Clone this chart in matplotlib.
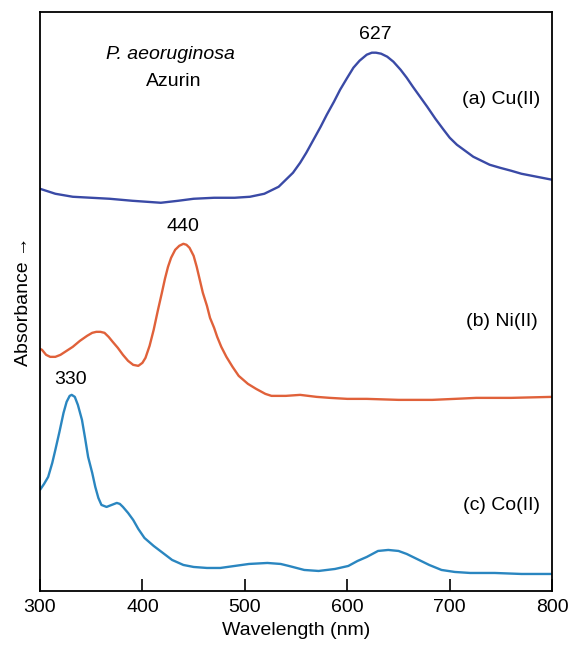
import numpy as np
import matplotlib
matplotlib.use("Agg")
import matplotlib.pyplot as plt

plt.rcParams['font.family'] = ['Liberation Sans', 'DejaVu Sans']

# spectra (wavelength in nm, height in arbitrary units)
cu_nm = [300, 315, 332, 350, 368, 390, 418, 435, 450, 470, 490, 505, 519, 533, 547, 554,
         560, 567, 574, 580, 587, 593, 600, 606, 612, 619, 624, 628, 633, 639, 645, 652,
         658, 664, 671, 678, 686, 694, 700, 707, 715, 723, 731, 739, 749, 760, 770, 785, 800]
cu_px = [189, 194, 197, 198, 199, 201, 203, 201, 199, 198, 198, 197, 194, 187, 173, 163,
         153, 140, 127, 115, 102, 90, 78, 68, 61, 55, 53, 53, 54, 57, 62, 70,
         78, 87, 97, 107, 119, 130, 138, 145, 151, 157, 161, 165, 168, 171, 174, 177, 180]

ni_nm = [300, 302, 306, 310, 315, 320, 326, 332, 339, 346, 351, 355, 359, 363, 367, 371,
         376, 381, 386, 391, 396, 400, 403, 407, 411, 415, 419, 422, 425, 428, 432, 436,
         440, 443, 446, 450, 453, 456, 459, 463, 466, 470, 473, 477, 482, 488, 494, 503,
         511, 520, 526, 540, 554, 570, 583, 600, 619, 650, 683, 705, 726, 760, 800]
ni_px = [349, 350, 355, 357, 357, 355, 351, 347, 341, 336, 333, 332, 332, 333, 337, 342,
         348, 355, 361, 365, 366, 363, 358, 346, 330, 311, 293, 279, 267, 258, 250, 246,
         244, 245, 248, 256, 267, 280, 293, 306, 318, 328, 337, 347, 357, 367, 376, 384,
         389, 394, 396, 396, 395, 397, 398, 399, 399, 400, 400, 399, 398, 398, 397]

co_nm = [300, 304, 308, 312, 315, 319, 323, 326, 329, 331, 334, 337, 341, 344, 347, 351,
         354, 357, 360, 365, 370, 375, 378, 381, 386, 391, 396, 402, 411, 420, 429, 440,
         450, 463, 476, 490, 504, 522, 535, 543, 558, 572, 588, 601, 610, 619, 630, 640,
         650, 658, 670, 680, 692, 705, 720, 744, 770, 800]
co_px = [490, 484, 477, 463, 450, 432, 413, 402, 396, 395, 397, 405, 420, 438, 457, 473,
         487, 498, 505, 507, 505, 503, 504, 507, 513, 520, 529, 538, 546, 553, 560, 565,
         567, 568, 568, 566, 564, 563, 564, 566, 570, 571, 569, 566, 561, 557, 551, 550,
         551, 554, 560, 565, 570, 572, 573, 573, 574, 574]

BASE = 591
cu = BASE - np.array(cu_px)
ni = BASE - np.array(ni_px)
co = BASE - np.array(co_px)

fig = plt.figure(figsize=(5.71, 6.48), dpi=100)
ax = fig.add_axes([0.070, 0.088, 0.897, 0.894])

kw = dict(lw=1.7, solid_joinstyle='round', solid_capstyle='round')
ax.plot(cu_nm, cu, color='#3a4aa6', **kw)
ax.plot(ni_nm, ni, color='#e0613a', **kw)
ax.plot(co_nm, co, color='#2a86c0', **kw)

ax.set_xlim(300, 800)
ax.set_ylim(0, BASE - 12)
ax.set_xticks([300, 400, 500, 600, 700, 800])
ax.set_yticks([])
ax.tick_params(axis='x', direction='in', length=9, width=1.2, labelsize=14, pad=6)
for s in ax.spines.values():
    s.set_linewidth(1.3)

ax.set_xlabel('Wavelength (nm)', fontsize=14, labelpad=4)
ax.set_ylabel('Absorbance \u2192', fontsize=14, labelpad=6)

fs = 14
ax.text(627, BASE - 35, '627', ha='center', va='center', fontsize=fs)
ax.text(440, BASE - 227, '440', ha='center', va='center', fontsize=fs)
ax.text(330, BASE - 380, '330', ha='center', va='center', fontsize=fs)
ax.text(427, BASE - 55, 'P. aeoruginosa', ha='center', va='center', fontsize=fs, style='italic')
ax.text(431, BASE - 82, 'Azurin', ha='center', va='center', fontsize=fs)
ax.text(788, BASE - 100, '(a) Cu(II)', ha='right', va='center', fontsize=fs)
ax.text(786, BASE - 322, '(b) Ni(II)', ha='right', va='center', fontsize=fs)
ax.text(788, BASE - 506, '(c) Co(II)', ha='right', va='center', fontsize=fs)

fig.savefig('out.png', dpi=100)
